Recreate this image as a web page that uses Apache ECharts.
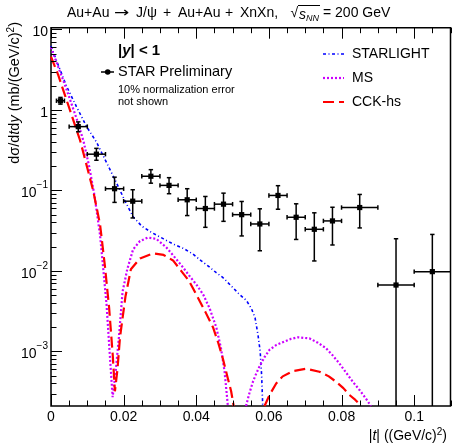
<!DOCTYPE html>
<html><head><meta charset="utf-8">
<script src="https://cdn.jsdelivr.net/npm/echarts@6/dist/echarts.min.js"></script>
<style>html,body{margin:0;padding:0;background:#fff}#c{width:452px;height:444px}</style>
</head><body><div id="c"></div>
<script>
// ---------- data ----------
const xTickLabels = [0, 0.02, 0.04, 0.06, 0.08, 0.1];
const yTickLabels = [1e-3, 1e-2, 1e-1, 1, 10];

// STAR Preliminary points (|t| bin centre, bin edges, value, error band)
const starT   = [0.0026, 0.0075, 0.0125, 0.0175, 0.0225, 0.0275, 0.0325, 0.0375, 0.0425, 0.0475, 0.0525, 0.0575, 0.0625, 0.0675, 0.0725, 0.0775, 0.085, 0.095, 0.105];
const starTLo = [0.0015, 0.005, 0.01, 0.015, 0.02, 0.025, 0.03, 0.035, 0.04, 0.045, 0.05, 0.055, 0.06, 0.065, 0.07, 0.075, 0.08, 0.09, 0.1];
const starTHi = [0.0037, 0.01, 0.015, 0.02, 0.025, 0.03, 0.035, 0.04, 0.045, 0.05, 0.055, 0.06, 0.065, 0.07, 0.075, 0.08, 0.09, 0.1, 0.11];
const starV   = [1.30, 0.62, 0.282, 0.105, 0.0735, 0.150, 0.1155, 0.0765, 0.0596, 0.0675, 0.050, 0.0383, 0.0866, 0.0464, 0.0329, 0.0418, 0.0613, 0.00668, 0.0098];
const starVLo = [1.18, 0.535, 0.237, 0.071, 0.0455, 0.123, 0.091, 0.0487, 0.0348, 0.0413, 0.0272, 0.0178, 0.0584, 0.0246, 0.0133, 0.021, 0.0342, 0, 0];
const starVHi = [1.43, 0.71, 0.333, 0.146, 0.102, 0.181, 0.144, 0.105, 0.0841, 0.0925, 0.0729, 0.0591, 0.1145, 0.0682, 0.0527, 0.0618, 0.0891, 0.0251, 0.0284];

// STARLIGHT
const slT = [0, 0.002, 0.0043, 0.007, 0.0098, 0.0125, 0.015, 0.018, 0.0205, 0.0226, 0.025, 0.0277, 0.031, 0.0336, 0.0365, 0.0391, 0.0414, 0.0435, 0.0455, 0.0473, 0.0495, 0.0519, 0.0538, 0.0552, 0.0562, 0.0570, 0.0576, 0.0580, 0.0583];
const slV = [6.2, 3.6, 1.96, 1.1, 0.62, 0.40, 0.236, 0.125, 0.072, 0.047, 0.036, 0.030, 0.025, 0.0216, 0.019, 0.0162, 0.0133, 0.0113, 0.0095, 0.0083, 0.0066, 0.0051, 0.0043, 0.0034, 0.0026, 0.0016, 0.0010, 0.0005, 0.00021];

// MS (two lobes)
const msT1 = [0, 0.002, 0.004, 0.006, 0.0075, 0.009, 0.0105, 0.012, 0.0135, 0.0144, 0.0153, 0.0162, 0.01697, 0.0178, 0.0187, 0.0197, 0.021, 0.0226, 0.0245, 0.0267, 0.029, 0.0318, 0.0345, 0.0364, 0.038, 0.040, 0.0419, 0.0437, 0.0455, 0.0468, 0.0478, 0.0487];
const msV1 = [6.0, 3.4, 1.95, 1.07, 0.68, 0.40, 0.20, 0.085, 0.028, 0.0105, 0.0038, 0.0009, 0.00027, 0.00056, 0.0015, 0.0055, 0.0105, 0.0185, 0.0235, 0.026, 0.025, 0.0195, 0.014, 0.011, 0.0088, 0.0068, 0.0051, 0.0034, 0.002, 0.0011, 0.00056, 0.00021];
const msT2 = [0.0537, 0.0546, 0.0556, 0.0565, 0.0574, 0.0588, 0.0602, 0.062, 0.0638, 0.066, 0.068, 0.0712, 0.0735, 0.0757, 0.0775, 0.0794, 0.0812, 0.0831, 0.085, 0.0867, 0.0881];
const msV2 = [0.00021, 0.0003, 0.00042, 0.00053, 0.00065, 0.00085, 0.00105, 0.0012, 0.0013, 0.00143, 0.0015, 0.00145, 0.00128, 0.0011, 0.0009, 0.00071, 0.00055, 0.00042, 0.00033, 0.00026, 0.00021];

// CCK-hs (two lobes)
const cckT1 = [0, 0.002, 0.004, 0.006, 0.008, 0.010, 0.0116, 0.0135, 0.0148, 0.016, 0.017, 0.0176, 0.0183, 0.019, 0.0205, 0.022, 0.0245, 0.0281, 0.031, 0.0336, 0.036, 0.038, 0.040, 0.0425, 0.0446, 0.046, 0.0473, 0.0485, 0.0496, 0.0503];
const cckV1 = [4.6, 2.7, 1.45, 0.78, 0.42, 0.19, 0.1, 0.038, 0.012, 0.0035, 0.0009, 0.00032, 0.0006, 0.0015, 0.0048, 0.0105, 0.0143, 0.0165, 0.0158, 0.0135, 0.0098, 0.0075, 0.0051, 0.0031, 0.002, 0.0013, 0.00082, 0.0005, 0.00032, 0.00021];
const cckT2 = [0.0588, 0.0602, 0.062, 0.0638, 0.0666, 0.0703, 0.0739, 0.0765, 0.0785, 0.0805, 0.0821, 0.0838, 0.0854];
const cckV2 = [0.00021, 0.00029, 0.0004, 0.00049, 0.00057, 0.00061, 0.00056, 0.00049, 0.00042, 0.00035, 0.00029, 0.00025, 0.00021];

// ---------- chart ----------
const FONT = 'Liberation Sans, Arial, Helvetica, sans-serif';
const X_MIN = 0, X_MAX = 0.11, Y_MIN = 2.1e-4, Y_MAX = 10.5;
const zip = (a, b) => a.map((v, i) => [v, b[i]]);
const starData = starT.map((t, i) => [t, starV[i], starTLo[i], starTHi[i], starVLo[i], starVHi[i]]);

function renderTicks(params, api) {
  const cs = params.coordSys;
  const L = cs.x, T = cs.y, B = cs.y + cs.height;
  const els = [];
  const st = { stroke: '#000', lineWidth: 1 };
  for (let k = 0; k <= 22; k++) {
    const v = k * 0.005;
    const px = Math.round(api.coord([v, 1])[0]) + 0.5;
    const len = (k % 4 === 0) ? 11 : 5.5;
    els.push({ type: 'line', shape: { x1: px, y1: B, x2: px, y2: B - len }, style: st });
    els.push({ type: 'line', shape: { x1: px, y1: T, x2: px, y2: T + len }, style: st });
  }
  for (let e = -4; e <= 1; e++) {
    for (let m = 1; m <= 9; m++) {
      const v = m * Math.pow(10, e);
      if (v < Y_MIN || v > Y_MAX) continue;
      const py = Math.round(api.coord([0, v])[1]) + 0.5;
      const len = (m === 1) ? 11 : 5.5;
      els.push({ type: 'line', shape: { x1: L, y1: py, x2: L + len, y2: py }, style: st });
    }
  }
  return { type: 'group', children: els };
}

function renderErr(params, api) {
  const cs = params.coordSys;
  const B = cs.y + cs.height, R = cs.x + cs.width;
  const x = api.value(0), y = api.value(1), xl = api.value(2), xh = api.value(3), yl = api.value(4), yh = api.value(5);
  const c = api.coord([x, y]);
  const pxl = api.coord([xl, y])[0];
  const pxh = Math.min(api.coord([xh, y])[0], R);
  const pyl = yl > 0 ? Math.min(api.coord([x, yl])[1], B) : B;
  const pyh = api.coord([x, yh])[1];
  const st = { stroke: '#000', lineWidth: 1.5 };
  const cap = 2.2;
  const ch = [
    { type: 'line', shape: { x1: pxl, y1: c[1], x2: pxh, y2: c[1] }, style: st },
    { type: 'line', shape: { x1: c[0], y1: pyl, x2: c[0], y2: pyh }, style: st },
    { type: 'line', shape: { x1: pxl, y1: c[1] - cap, x2: pxl, y2: c[1] + cap }, style: st },
    { type: 'line', shape: { x1: c[0] - cap, y1: pyh, x2: c[0] + cap, y2: pyh }, style: st },
    { type: 'rect', shape: { x: c[0] - 2.6, y: c[1] - 2.6, width: 5.2, height: 5.2 }, style: { fill: '#000' } }
  ];
  if (pxh < R - 0.5) ch.push({ type: 'line', shape: { x1: pxh, y1: c[1] - cap, x2: pxh, y2: c[1] + cap }, style: st });
  if (pyl < B - 0.5) ch.push({ type: 'line', shape: { x1: c[0] - cap, y1: pyl, x2: c[0] + cap, y2: pyl }, style: st });
  return { type: 'group', children: ch };
}

const SL = { color: '#0000ff', width: 1.6, type: [3, 2.5, 1, 2.5] };
const MS = { color: '#cc00ff', width: 2.2, type: [2, 2] };
const CK = { color: '#ff0000', width: 2.2, type: [11, 5] };

function lineSeries(data, ls) {
  return { type: 'line', data: data, showSymbol: false, symbol: 'none', smooth: false, clip: true,
           lineStyle: { color: ls.color, width: ls.width, type: ls.type, cap: 'butt' }, z: 3 };
}

// title pieces laid out as in the ROOT picture
const TY = 13.5, TF = '14px ' + FONT;
function tpiece(text, x, extra) {
  return { type: 'text', x: x, y: TY, z: 10,
    style: Object.assign({ text: text, font: TF, fill: '#000', verticalAlign: 'middle', align: 'left' }, extra || {}) };
}
const arrowEl = tpiece('\u2192', 114, { font: '14px DejaVu Sans' });
arrowEl.scaleX = 1.3;
const titleEls = [
  tpiece('Au+Au', 67),
  arrowEl,
  tpiece('J/\u03c8', 136),
  tpiece('+', 163),
  tpiece('Au+Au', 178),
  tpiece('+', 225),
  tpiece('XnXn,', 240),
  tpiece('\u221a', 290.5),
  tpiece('{i|s}{sub|NN}', 299, { rich: {
    i: { fontStyle: 'italic', fontSize: 14, fontFamily: FONT, lineHeight: 18, verticalAlign: 'bottom' },
    sub: { fontStyle: 'italic', fontSize: 9, fontFamily: FONT, lineHeight: 18, verticalAlign: 'bottom' } } }),
  tpiece('= 200 GeV', 323),
  { type: 'line', z: 10, shape: { x1: 298, y1: 5.5, x2: 320, y2: 5.5 }, style: { stroke: '#000', lineWidth: 1 } }
];

const chart = echarts.init(document.getElementById('c'), null, { renderer: 'canvas' });
chart.setOption({
  animation: false,
  backgroundColor: '#fff',
  textStyle: { fontFamily: FONT, color: '#000' },
  grid: { left: 51, right: 1.5, top: 27.7, bottom: 38, containLabel: false, outerBoundsMode: 'none',
          show: true, borderColor: '#000', borderWidth: 1.5, backgroundColor: 'transparent' },
  xAxis: {
    type: 'value', min: X_MIN, max: X_MAX, interval: 0.02,
    axisLine: { show: false }, axisTick: { show: false }, splitLine: { show: false },
    axisLabel: { margin: 4, fontSize: 14, color: '#000', fontFamily: FONT,
      formatter: v => xTickLabels.some(t => Math.abs(t - v) < 1e-9) ? String(+v.toFixed(3)) : '' }
  },
  yAxis: {
    type: 'log', logBase: 10, min: Y_MIN, max: Y_MAX,
    axisLine: { show: false }, axisTick: { show: false }, splitLine: { show: false },
    axisLabel: { margin: 3, color: '#000', fontFamily: FONT,
      formatter: v => {
        const e = Math.log10(v), k = Math.round(e);
        if (Math.abs(e - k) > 1e-6) return '';
        if (!yTickLabels.some(t => Math.abs(Math.log10(t) - k) < 1e-6)) return '';
        if (k === 1) return '{n|10}';
        if (k === 0) return '{n|1}';
        return '{n|10}{s|\u2212' + (-k) + '}';
      },
      rich: { n: { fontSize: 14, lineHeight: 20, verticalAlign: 'bottom', fontFamily: FONT, color: '#000' },
              s: { fontSize: 10, lineHeight: 20, verticalAlign: 'top', fontFamily: FONT, color: '#000' } } }
  },
  series: [
    lineSeries(zip(slT, slV), SL),
    lineSeries(zip(msT1, msV1), MS),
    lineSeries(zip(msT2, msV2), MS),
    lineSeries(zip(cckT1, cckV1), CK),
    lineSeries(zip(cckT2, cckV2), CK),
    { type: 'custom', data: starData, encode: { x: 0, y: 1 }, renderItem: renderErr, z: 5, clip: false },
    { type: 'custom', data: [[0.05, 1]], encode: { x: 0, y: 1 }, renderItem: renderTicks, z: 6, silent: true }
  ],
  graphic: titleEls.concat([
    // y axis title
    { type: 'text', x: 15, y: 22, rotation: Math.PI / 2, z: 10,
      style: { text: 'd\u03c3/d{i|t}d{i|y} (mb/(GeV/c){s|2})', font: '14.5px ' + FONT, fill: '#000', align: 'right', verticalAlign: 'middle',
               rich: { i: { fontStyle: 'italic', fontSize: 14.5, fontFamily: FONT },
                       s: { fontSize: 10, fontFamily: FONT, verticalAlign: 'top', lineHeight: 18 } } } },
    // x axis title
    { type: 'text', x: 447, y: 436, z: 10,
      style: { text: '|{i|t}| ((GeV/c){s|2})', font: '14px ' + FONT, fill: '#000', align: 'right', verticalAlign: 'middle',
               rich: { i: { fontStyle: 'italic', fontSize: 14, fontFamily: FONT },
                       s: { fontSize: 10, fontFamily: FONT, verticalAlign: 'top', lineHeight: 18 } } } },
    // left legend
    { type: 'text', x: 118, y: 51, z: 10,
      style: { text: '|{i|y}| < 1', font: 'bold 15px ' + FONT, fill: '#000', verticalAlign: 'middle',
               rich: { i: { fontStyle: 'italic', fontWeight: 'bold', fontSize: 15, fontFamily: FONT } } } },
    { type: 'line', z: 10, shape: { x1: 101, y1: 72, x2: 114, y2: 72 }, style: { stroke: '#000', lineWidth: 1.5 } },
    { type: 'circle', z: 10, shape: { cx: 107.7, cy: 72, r: 2.8 }, style: { fill: '#000' } },
    { type: 'text', x: 118, y: 72, z: 10, style: { text: 'STAR Preliminary', font: '14.5px ' + FONT, fill: '#000', verticalAlign: 'middle' } },
    { type: 'text', x: 118, y: 89.5, z: 10, style: { text: '10% normalization error', font: '11px ' + FONT, fill: '#000', verticalAlign: 'middle' } },
    { type: 'text', x: 118, y: 101.5, z: 10, style: { text: 'not shown', font: '11px ' + FONT, fill: '#000', verticalAlign: 'middle' } },
    // right legend
    { type: 'line', z: 10, shape: { x1: 323, y1: 54, x2: 344, y2: 54 }, style: { stroke: SL.color, lineWidth: SL.width, lineDash: SL.type } },
    { type: 'text', x: 352, y: 54, z: 10, style: { text: 'STARLIGHT', font: '14px ' + FONT, fill: '#000', verticalAlign: 'middle' } },
    { type: 'line', z: 10, shape: { x1: 323, y1: 78, x2: 344, y2: 78 }, style: { stroke: MS.color, lineWidth: MS.width, lineDash: MS.type } },
    { type: 'text', x: 352, y: 78, z: 10, style: { text: 'MS', font: '14px ' + FONT, fill: '#000', verticalAlign: 'middle' } },
    { type: 'line', z: 10, shape: { x1: 323, y1: 102, x2: 344, y2: 102 }, style: { stroke: CK.color, lineWidth: CK.width, lineDash: CK.type } },
    { type: 'text', x: 352, y: 102, z: 10, style: { text: 'CCK-hs', font: '14px ' + FONT, fill: '#000', verticalAlign: 'middle' } }
  ])
});
</script>
</body></html>
